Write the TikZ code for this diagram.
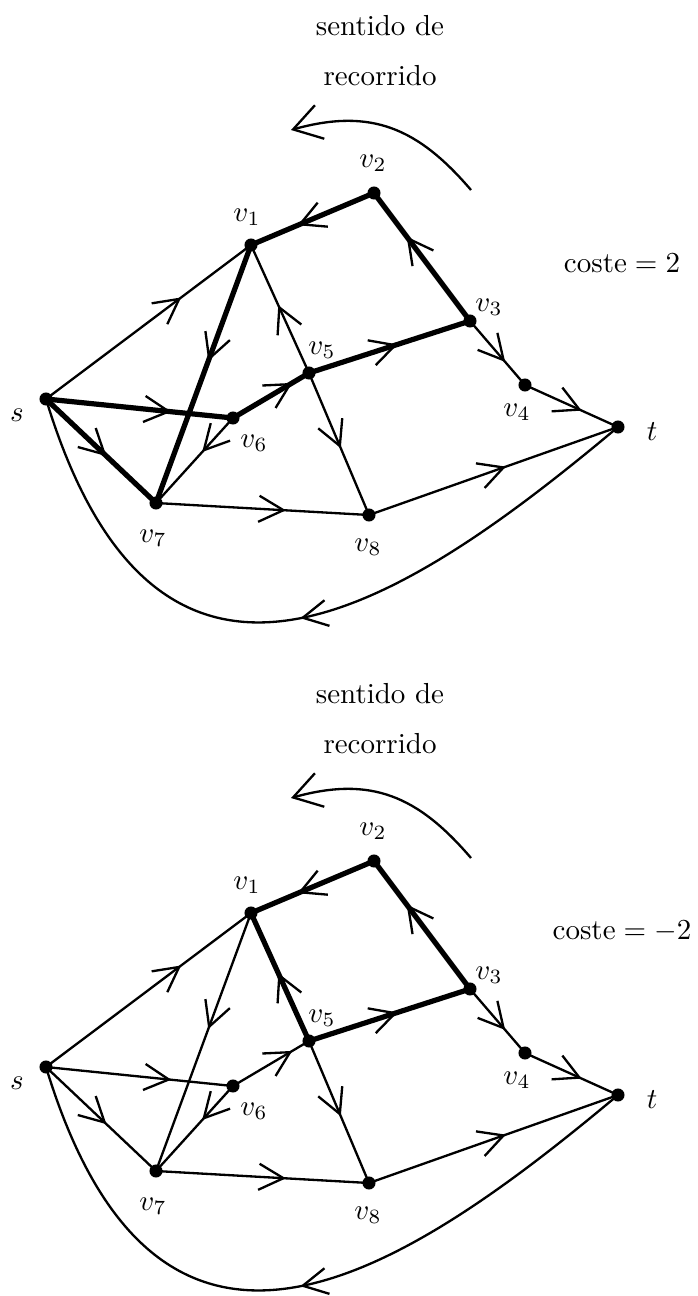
\documentclass[tikz,border=0pt]{standalone}
\usetikzlibrary{arrows.meta,decorations.markings}
\tikzset{
  vtx/.style={circle,fill=black,inner sep=0pt,minimum size=4.5pt},
  lab/.style={inner sep=0pt},
  thinedge/.style={line width=0.8pt},
  thickedge/.style={line width=1.8pt},
  midarr/.style={postaction={decorate,decoration={markings,
     mark=at position #1 with {\arrow{Straight Barb[length=8.5pt,width=9pt,line width=0.8pt]}}}}},
  bigarr/.style={line width=0.8pt,-{Straight Barb[length=9.5pt,width=12pt,line width=0.8pt]}}
}
\begin{document}
\begin{tikzpicture}[x=0.345pt,y=-0.345pt]
\useasboundingbox (0,0) rectangle (697,1296);
\foreach \dy/\cst/\thA/\thB in {0/{2}/thickedge/thinedge, 668/{-2}/thinedge/thickedge}{
\begin{scope}[shift={(0,\dy)},name prefix=g\dy-]
  % vertices
  \node[vtx] (s)  at (46,399) {};
  \node[vtx] (v1) at (251,245) {};
  \node[vtx] (v2) at (374,193) {};
  \node[vtx] (v3) at (470,321) {};
  \node[vtx] (v4) at (525,385) {};
  \node[vtx] (t)  at (618,427) {};
  \node[vtx] (v5) at (309,373) {};
  \node[vtx] (v6) at (233,418) {};
  \node[vtx] (v7) at (156,503) {};
  \node[vtx] (v8) at (369,515) {};
  % labels
  \node[lab] (ls)  at (17,415)  {$s$};
  \node[lab] (l1)  at (247,217) {$v_1$};
  \node[lab] (l2)  at (373,163) {$v_2$};
  \node[lab] (l3)  at (489,307) {$v_3$};
  \node[lab] (l4)  at (517,412) {$v_4$};
  \node[lab] (lt)  at (652,432) {$t$};
  \node[lab] (l5)  at (322,350) {$v_5$};
  \node[lab] (l6)  at (254,443) {$v_6$};
  \node[lab] (l7)  at (153,538) {$v_7$};
  \node[lab] (l8)  at (368,547) {$v_8$};
  \node[lab] (sd)  at (380,26)  {sentido de};
  \node[lab] (rc)  at (380,76)  {recorrido};
  \node[lab] (cs)  at (622,263) {$\mbox{coste}=\cst$};
  % cycle edges thick in both
  \draw[thickedge,midarr=0.62] (v2.center) -- (v1.center);
  \draw[thickedge,midarr=0.66] (v3.center) -- (v2.center);
  \draw[thickedge,midarr=0.55] (v5.center) -- (v3.center);
  % edges thick only in the first
  \draw[\thA,midarr=0.78] (v6.center) -- (v5.center);
  \draw[\thA,midarr=0.67] (s.center) -- (v6.center);
  \draw[\thA,midarr=0.55] (s.center) -- (v7.center);
  \draw[\thA,midarr=0.45] (v1.center) -- (v7.center);
  % edge thick only in the second
  \draw[\thB,midarr=0.53] (v5.center) -- (v1.center);
  % thin edges
  \draw[thinedge,midarr=0.66] (s.center) -- (v1.center);
  \draw[thinedge,midarr=0.64] (v3.center) -- (v4.center);
  \draw[thinedge,midarr=0.61] (v4.center) -- (t.center);
  \draw[thinedge,midarr=0.53] (v5.center) -- (v8.center);
  \draw[thinedge,midarr=0.40] (v6.center) -- (v7.center);
  \draw[thinedge,midarr=0.61] (v7.center) -- (v8.center);
  \draw[thinedge,midarr=0.55] (v8.center) -- (t.center);
  \draw[thinedge,midarr=0.50] (t.center) .. controls (395,614) and (157,764) .. (s.center);
  % direction arrow
  \coordinate (a0) at (471,190);
  \coordinate (a1) at (291,130);
  \draw[bigarr] (a0) .. controls (418,128) and (371,107.6) .. (a1);
\end{scope}
}
\end{tikzpicture}
\end{document}
